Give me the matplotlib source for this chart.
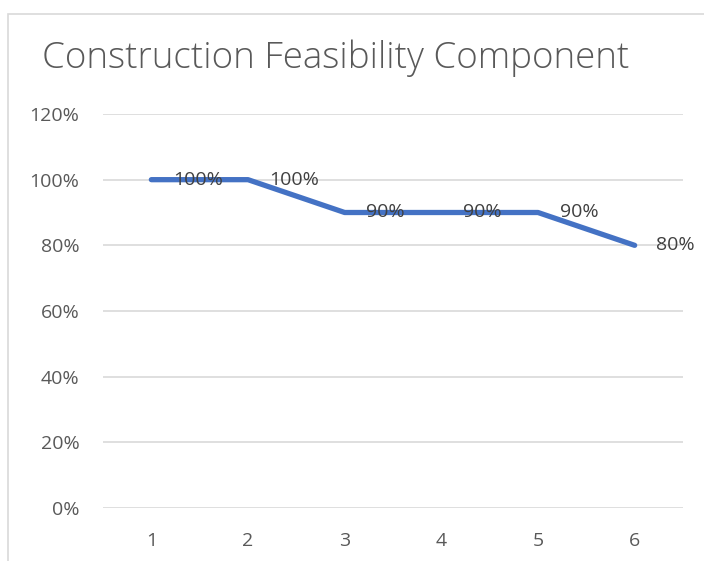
import matplotlib
matplotlib.use("Agg")
import matplotlib.pyplot as plt
from matplotlib.patches import Rectangle
from matplotlib.ticker import FuncFormatter

categories = [1, 2, 3, 4, 5, 6]
values = [1.00, 1.00, 0.90, 0.90, 0.90, 0.80]
labels = ["100%", "100%", "90%", "90%", "90%", "80%"]
yticks = [0, 0.2, 0.4, 0.6, 0.8, 1.0, 1.2]
title = "Construction Feasibility Component"

plt.rcParams['font.family'] = ['Open Sans', 'DejaVu Sans']
txt = '#595959'
grid = '#D9D9D9'

fig = plt.figure(figsize=(7.04, 5.61), dpi=100)
fig.patches.append(Rectangle((8/704, -0.1), 1.2, 1 - 14/561 + 0.1,
                             transform=fig.transFigure, fill=False,
                             edgecolor=grid, linewidth=1.2))
ax = fig.add_axes([103/704, 1 - 508/561, 580/704, (508 - 114)/561])
ax.plot(categories, values, color='#4472C4', linewidth=3.8,
        solid_capstyle='round', solid_joinstyle='round', zorder=3)
for x, y, l in zip(categories, values, labels):
    ax.annotate(l, (x, y), xytext=(15.5, 0), textcoords='offset points',
                ha='left', va='center', fontsize=14, color='#404040', zorder=4)
ax.set_xlim(0.5, 6.5)
ax.set_ylim(0, 1.2)
ax.set_yticks(yticks)
ax.yaxis.set_major_formatter(FuncFormatter(lambda v, p: f"{v*100:.0f}%"))
ax.set_xticks(categories)
ax.grid(axis='y', color=grid, linewidth=1.2)
ax.set_axisbelow(True)
for s in ax.spines.values():
    s.set_visible(False)
ax.tick_params(length=0, labelsize=14, labelcolor=txt)
ax.tick_params(axis='y', pad=17)
ax.tick_params(axis='x', pad=17)
fig.text(336/704, 1 - 68/561, title, ha='center', va='baseline',
         fontsize=26.5, color=txt, fontweight='light')
fig.savefig("out.png", dpi=100)
